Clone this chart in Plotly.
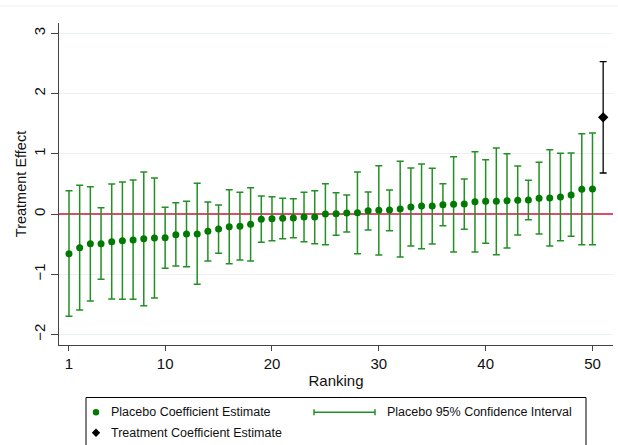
import plotly.graph_objects as go

# Placebo estimates ordered by rank, with 95% confidence bounds
ranking = list(range(1, 51))
placebo_est = [-0.659, -0.559, -0.493, -0.493, -0.460, -0.443, -0.432, -0.410, -0.399, -0.393,
               -0.343, -0.332, -0.332, -0.288, -0.249, -0.210, -0.205, -0.172, -0.089, -0.078,
               -0.072, -0.066, -0.050, -0.050, 0.000, 0.006, 0.017, 0.022, 0.055, 0.061,
               0.066, 0.083, 0.116, 0.133, 0.133, 0.155, 0.161, 0.166, 0.205, 0.210,
               0.210, 0.221, 0.227, 0.233, 0.260, 0.266, 0.282, 0.316, 0.410, 0.415]
placebo_hi = [0.388, 0.476, 0.454, 0.105, 0.498, 0.532, 0.565, 0.698, 0.598, 0.111,
              0.188, 0.210, 0.509, 0.199, 0.150, 0.404, 0.360, 0.437, 0.299, 0.288,
              0.260, 0.255, 0.360, 0.388, 0.504, 0.354, 0.316, 0.698, 0.365, 0.803,
              0.399, 0.875, 0.764, 0.831, 0.759, 0.504, 0.952, 0.581, 1.035, 0.903,
              1.096, 1.002, 0.797, 0.559, 0.858, 1.069, 1.008, 1.013, 1.334, 1.346]
placebo_lo = [-1.700, -1.595, -1.445, -1.085, -1.412, -1.417, -1.417, -1.523, -1.395, -0.903,
              -0.864, -0.875, -1.168, -0.781, -0.653, -0.825, -0.764, -0.781, -0.471, -0.443,
              -0.410, -0.393, -0.460, -0.493, -0.509, -0.354, -0.299, -0.659, -0.266, -0.681,
              -0.277, -0.714, -0.532, -0.576, -0.498, -0.194, -0.631, -0.255, -0.631, -0.487,
              -0.676, -0.565, -0.349, -0.094, -0.332, -0.532, -0.443, -0.371, -0.509, -0.509]

# Actual treatment effect
treat_rank = [51]
treat_est = [1.606]
treat_hi = [2.530]
treat_lo = [0.681]

x_ticks = [1, 10, 20, 30, 40, 50]
y_ticks = [-2, -1, 0, 1, 2, 3]
x_range = [0.065, 51.92]
y_range = [-2.176, 3.173]

W, H = 618, 445
ML, MR, MT, MB = 59, 5, 23, 100
PW, PH = W - ML - MR, H - MT - MB

GREEN = "#007a00"
BAR_GREEN = "#239023"
RED = "#d0143f"
FONT = "Liberation Sans, Arial, sans-serif"


def px_x(px):
    return (px - ML) / PW


def px_y(py):
    return (H - MB - py) / PH


fig = go.Figure()

# zero reference line across the full x range, drawn first so the estimates sit on top
fig.add_trace(go.Scatter(
    x=x_range, y=[0, 0], mode="lines",
    line=dict(color=RED, width=1.6), hoverinfo="skip", showlegend=False,
))

fig.add_trace(go.Scatter(
    x=ranking, y=placebo_est, mode="markers",
    marker=dict(color=GREEN, size=7, symbol="circle"),
    error_y=dict(type="data", symmetric=False,
                 array=[h - e for h, e in zip(placebo_hi, placebo_est)],
                 arrayminus=[e - l for e, l in zip(placebo_est, placebo_lo)],
                 color=BAR_GREEN, thickness=1.5, width=3.5),
    showlegend=False,
))

fig.add_trace(go.Scatter(
    x=treat_rank, y=treat_est, mode="markers",
    marker=dict(color="black", size=8, symbol="diamond"),
    error_y=dict(type="data", symmetric=False,
                 array=[h - e for h, e in zip(treat_hi, treat_est)],
                 arrayminus=[e - l for e, l in zip(treat_est, treat_lo)],
                 color="black", thickness=1.3, width=3.5),
    showlegend=False,
))

shapes = []
# faint rule along the top of the canvas
shapes.append(dict(type="line", xref="paper", yref="paper", x0=px_x(0), x1=px_x(W),
                   y0=px_y(6), y1=px_y(6), line=dict(color="#e9f0f0", width=1)))

# legend box
shapes.append(dict(type="rect", xref="paper", yref="paper",
                   x0=px_x(86), x1=px_x(586), y0=px_y(452), y1=px_y(397.5),
                   line=dict(color="black", width=1), fillcolor="white"))
# legend: green dot
r = 3.2
shapes.append(dict(type="circle", xref="paper", yref="paper",
                   x0=px_x(96 - r), x1=px_x(96 + r), y0=px_y(412.3 + r), y1=px_y(412.3 - r),
                   fillcolor=GREEN, line=dict(color=GREEN, width=0)))
# legend: black diamond
cx, cy, d = 96, 432.7, 4.2
shapes.append(dict(type="path", xref="paper", yref="paper",
                   path=(f"M {px_x(cx - d)},{px_y(cy)} L {px_x(cx)},{px_y(cy - d)} "
                         f"L {px_x(cx + d)},{px_y(cy)} L {px_x(cx)},{px_y(cy + d)} Z"),
                   fillcolor="black", line=dict(color="black", width=0)))
# legend: capped interval
lx0, lx1, ly = 314, 375, 412.3
shapes.append(dict(type="line", xref="paper", yref="paper",
                   x0=px_x(lx0), x1=px_x(lx1), y0=px_y(ly), y1=px_y(ly),
                   line=dict(color=BAR_GREEN, width=1.5)))
for cxp in (lx0, lx1):
    shapes.append(dict(type="line", xref="paper", yref="paper",
                       x0=px_x(cxp), x1=px_x(cxp), y0=px_y(ly - 3), y1=px_y(ly + 3),
                       line=dict(color=BAR_GREEN, width=1.5)))

annotations = []
for txt, ax, ay in [("Placebo Coefficient Estimate", 109.3, 412.3),
                    ("Treatment Coefficient Estimate", 109.3, 432.7),
                    ("Placebo 95% Confidence Interval", 384.7, 412.3)]:
    annotations.append(dict(text=txt, x=px_x(ax), y=px_y(ay), xref="paper", yref="paper",
                            xanchor="left", yanchor="middle", showarrow=False,
                            font=dict(family=FONT, size=12.5, color="#111111")))

fig.update_layout(
    width=W, height=H,
    margin=dict(l=ML, r=MR, t=MT, b=MB, autoexpand=False),
    paper_bgcolor="white", plot_bgcolor="white",
    font=dict(family=FONT, color="#111111"),
    shapes=shapes, annotations=annotations,
    showlegend=False,
)

fig.update_xaxes(
    range=x_range, tickmode="array", tickvals=x_ticks,
    showgrid=False, zeroline=False,
    showline=True, linecolor="#444444", linewidth=1,
    ticks="outside", ticklen=5, tickcolor="#444444", tickwidth=1,
    tickfont=dict(size=15, family=FONT, color="#111111"),
    title=dict(text="Ranking", font=dict(size=15, family=FONT, color="#111111"), standoff=4),
)

fig.update_yaxes(
    range=y_range, tickmode="array", tickvals=y_ticks,
    showgrid=True, gridcolor="#eaf1f2", gridwidth=1, zeroline=False,
    showline=True, linecolor="#444444", linewidth=1,
    ticks="outside", ticklen=7, tickcolor="#444444", tickwidth=1,
    tickangle=-90,
    tickfont=dict(size=15, family=FONT, color="#111111"),
    title=dict(text="Treatment Effect", font=dict(size=14.5, family=FONT, color="#111111"), standoff=0),
)

fig.write_html("out.html")
